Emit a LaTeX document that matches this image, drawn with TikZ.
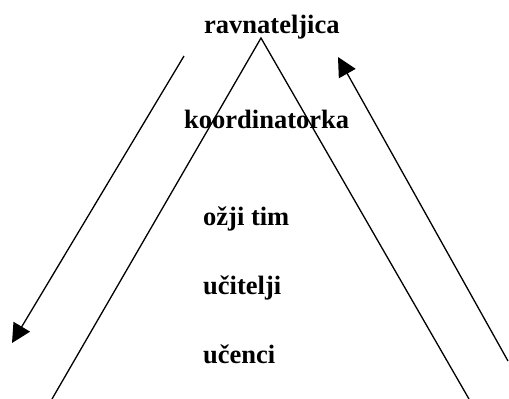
\documentclass[tikz,border=0pt]{standalone}
\usepackage{fontspec}
\setmainfont{Liberation Serif}
\usetikzlibrary{arrows.meta}
\tikzset{>={Triangle[length=19pt,width=19pt]}}
\tikzstyle{level}=[anchor=base west,inner sep=0pt,font=\fontsize{26.5}{30}\selectfont\bfseries]
\tikzstyle{side}=[line width=1.3pt,black]
\tikzstyle{flow}=[->,line width=1.3pt,black]

\begin{document}
\begin{tikzpicture}[x=1pt,y=-1pt]
  \useasboundingbox (0,0) rectangle (509,399);
  \coordinate (A) at (261,38);  % apex
  \coordinate (BL) at (52,399); % base left
  \coordinate (BR) at (469,399); % base right
  \coordinate (D0) at (184,56); % down arrow
  \coordinate (D1) at (12,343);
  \coordinate (U0) at (508,361); % up arrow
  \coordinate (U1) at (338,57);

  % PYRAMID
  \draw[side] (BL) -- (A) -- (BR);

  % LEVELS
  \node[level] (rav) at (204,33) {ravnateljica};
  \node[level] (koo) at (184,128) {koordinatorka};
  \node[level] (ozt) at (203,225) {ožji tim};
  \node[level] (uci) at (203,294) {učitelji};
  \node[level] (ucn) at (203,363) {učenci};

  % ARROWS
  \draw[flow] (D0) -- (D1);
  \draw[flow] (U0) -- (U1);
\end{tikzpicture}
\end{document}
